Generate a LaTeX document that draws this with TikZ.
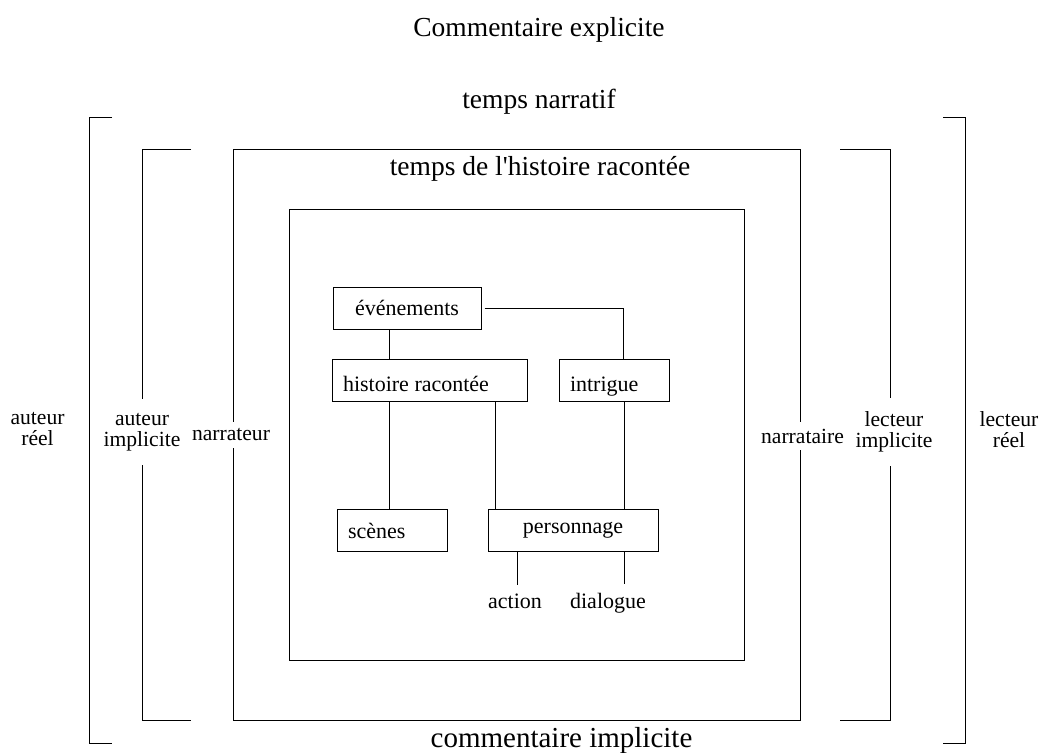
\documentclass[tikz,border=0pt]{standalone}
\usepackage{fontspec}
\setmainfont{Liberation Serif}[Ligatures=TeXOff]
\usepackage{tikz}

\begin{document}
\begin{tikzpicture}[x=0.5pt, y=-0.5pt, line width=0.5pt,
		boite/.style={draw, minimum height=21pt, inner ysep=0pt, text height=7pt, text depth=0pt, font=\fontsize{11}{12}\selectfont},
		gauche/.style={boite, align=flush left, inner xsep=5.5pt, text width=#1},
		mot/.style={anchor=base, inner sep=4pt, font=\fontsize{11}{12}\selectfont},
		titre/.style={anchor=base, inner sep=0pt, font=\fontsize{13.75}{16}\selectfont},
		etiquette/.style={fill=white, align=center, font=\fontsize{10.8}{10.5}\selectfont}]
		\useasboundingbox (0, 0) rectangle (1040, 752);
		
		\draw (112, 117) -- (89, 117) -- (89, 743) -- (112, 743); % Auteur réel
		\draw (191, 149) -- (142, 149) -- (142, 720) -- (191, 720); % Auteur implicite
		\draw (840, 149) -- (890, 149) -- (890, 720) -- (840, 720); % Lecteur implicite
		\draw (943, 117) -- (965, 117) -- (965, 743) -- (943, 743); % Lecteur réel
		\draw (233, 149) rectangle (800, 720); % Narrateur / narrataire
		\draw (289, 209) rectangle (744, 660); % Histoire
		
		\node [titre] (explicite) at (539, 36) {Commentaire explicite};
		\node [titre] (narratif) at (539, 108) {temps narratif};
		\node [titre] (tempshist) at (540, 175) {temps de l'histoire racontée};
		\node [titre, font=\fontsize{14.5}{16}\selectfont] (implicite) at (561.5, 747) {commentaire implicite};
		
		\node [etiquette] (auteurreel) at (37.5, 429) {auteur\\réel};
		\node [etiquette, inner ysep=7pt] (auteurimpl) at (142, 432) {auteur\\implicite};
		\node [etiquette] (narrateur) at (231, 435) {narrateur};
		\node [etiquette] (narrataire) at (802.5, 436) {narrataire};
		\node [etiquette, inner ysep=7pt] (lecteurimpl) at (894, 432) {lecteur\\implicite};
		\node [etiquette] (lecteurreel) at (1009, 430) {lecteur\\réel};
		
		\node [boite, minimum width=74pt] (evenements) at (407, 308) {événements}; % Les cases
		\node [gauche=86.5pt, text height=11pt] (histoire) at (429.5, 380) {histoire racontée};
		\node [gauche=44pt, text height=11pt] (intrigue) at (614, 380) {intrigue};
		\node [gauche=44pt, text height=7.5pt] (scenes) at (392, 530.5) {scènes};
		\node [boite, minimum width=85pt, text height=3pt] (personnage) at (573, 530) {personnage};
		\node [mot] (action) at (515, 608) {action};
		\node [mot] (dialogue) at (608, 608) {dialogue};
		
		\draw ([xshift=-9pt]evenements.south) -- ([xshift=-9pt]evenements.south |- histoire.north); % Les liens
		\draw ([xshift=1.5pt]evenements.east) -| ([xshift=4.5pt]intrigue.north);
		\draw ([xshift=-20.25pt]histoire.south) -- ([xshift=-20.25pt]histoire.south |- scenes.north);
		\draw ([xshift=32.75pt]histoire.south) -- ([xshift=32.75pt]histoire.south |- personnage.north);
		\draw ([xshift=5pt]intrigue.south) -- ([xshift=5pt]intrigue.south |- personnage.north);
		\draw ([xshift=-28pt]personnage.south) -- ([xshift=-28pt]personnage.south |- action.north);
		\draw ([xshift=25.5pt]personnage.south) -- ([xshift=25.5pt]personnage.south |- dialogue.north);
	\end{tikzpicture}
\end{document}
